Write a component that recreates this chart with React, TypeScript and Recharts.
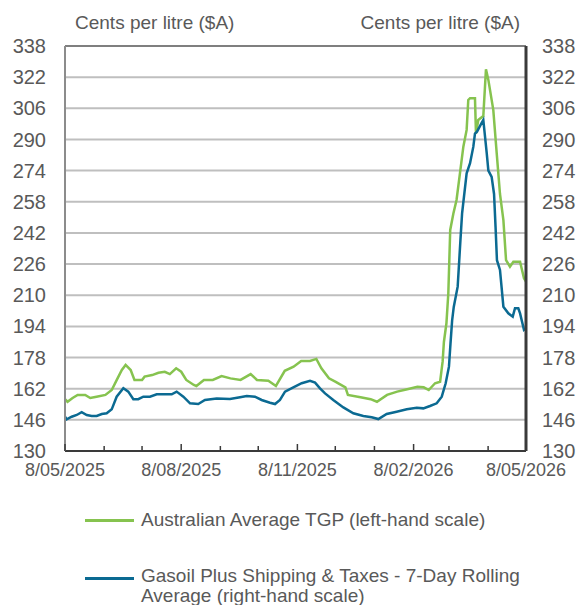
import { LineChart, Line, XAxis, YAxis, CartesianGrid, ReferenceLine } from 'recharts';

const START = Date.UTC(2025, 4, 8);
const DAY = 86400000;

// Australian Average TGP (left-hand scale), days after 8 May 2025
const tgpDays = [0, 2, 6, 10, 16, 20, 25, 32, 37, 41, 45, 48, 52, 55, 61, 63, 69, 74, 79, 83, 88, 92, 96, 102, 104, 110, 117, 124, 131, 139, 147, 152, 161, 167, 174, 181, 187, 194, 199, 203, 209, 214, 222, 224, 234, 242, 247, 255, 263, 271, 279, 284, 288, 293, 297, 299, 300, 302, 303.5, 305, 307.5, 310, 312.7, 315.4, 318, 319.3, 320.7, 324.6, 325.4, 327.2, 331.2, 333.3, 335.2, 339.1, 341.8, 344.4, 347.1, 349.2, 352.3, 355, 360.3, 363.4, 365];
const tgpCents = [156.6, 155.3, 157.2, 158.8, 158.8, 157.2, 157.9, 158.8, 161.3, 166.5, 171.6, 174.2, 171.6, 166.5, 166.5, 168.2, 169, 170.2, 170.7, 169.5, 172.5, 170.7, 166.5, 163.9, 163.4, 166.5, 166.5, 168.5, 167.3, 166.5, 169.5, 166.5, 166.1, 163.4, 171.2, 173.3, 176.2, 176.2, 177.3, 172.5, 167.3, 165.6, 162.7, 158.8, 157.6, 156.6, 155.3, 158.8, 160.5, 161.7, 163, 162.7, 161.3, 164.8, 165.6, 176, 186, 195.6, 211, 243.5, 252, 258.9, 272.6, 286.3, 294.9, 310.3, 311.2, 311.2, 293, 300, 302, 326, 320.6, 305.2, 283, 262, 248.6, 228, 224.7, 227.2, 227.2, 218.7, 217];

// Gasoil plus shipping & taxes, 7-day rolling average (right-hand scale)
const gasDays = [0, 1.3, 5.3, 9.3, 13.2, 17.2, 21.1, 25.1, 29.1, 33, 37, 40.9, 46.2, 50.1, 54.1, 58, 62, 67.3, 72.6, 80.5, 84.5, 88.4, 93.7, 99, 105.5, 110.8, 120.1, 130.6, 138.6, 143.9, 150.4, 155.7, 162.3, 166.3, 170.2, 174.2, 180.8, 187.4, 194, 198, 201.9, 205.9, 212.4, 220.4, 228.3, 236.2, 242.8, 248.1, 254.7, 262.6, 270.6, 278.5, 283.7, 289, 294.3, 298.3, 301.4, 304, 305.2, 306.5, 307.8, 310.9, 313.1, 314.4, 318, 320.7, 323.3, 324.6, 326.2, 329.9, 331.2, 333.9, 335.2, 337.8, 339.7, 340.9, 342, 344.4, 347.1, 351, 354.5, 356.3, 358.9, 360.3, 363.4, 365];
const gasCents = [147.6, 146.3, 147.6, 148.5, 149.9, 148.5, 148, 148, 149, 149.4, 151.4, 157.9, 162.2, 160.5, 156.6, 156.6, 157.9, 157.9, 159.1, 159.1, 159.1, 160.5, 157.9, 154.5, 154.1, 156.2, 157, 156.7, 157.6, 158.2, 157.9, 156.2, 154.8, 154.1, 156.2, 160.5, 162.7, 164.8, 166, 165.1, 162.2, 159.6, 156.2, 152.4, 149.4, 148, 147.3, 146.4, 149, 150.2, 151.4, 152.2, 151.9, 153.1, 154.5, 157.9, 164.8, 173.3, 185, 197, 204, 214.4, 238.4, 252, 272.6, 277.8, 286.3, 293, 294, 298.5, 300, 283, 274, 270.8, 262, 245, 228, 223, 204.1, 200.7, 199, 203.3, 203.3, 200.7, 192.2, 193];

const monthTicks = ['2025-05-08', '2025-06-08', '2025-07-08', '2025-08-08', '2025-09-08', '2025-10-08', '2025-11-08', '2025-12-08', '2026-01-08', '2026-02-08', '2026-03-08', '2026-04-08', '2026-05-08'];
const labelledTicks = ['8/05/2025', '8/08/2025', '8/11/2025', '8/02/2026', '8/05/2026'];
const yTicks = [130, 146, 162, 178, 194, 210, 226, 242, 258, 274, 290, 306, 322, 338];

const tgpData = tgpDays.map((d, i) => ({ day: d, tgp: tgpCents[i] }));
const gasData = gasDays.map((d, i) => ({ day: d, gas: gasCents[i] }));
const tickDays = monthTicks.map(s => (Date.parse(s) - START) / DAY);

const FONT = '"Liberation Sans", Arial, sans-serif';
const GREY = '#595959';
const GREEN = '#86C34F';
const BLUE = '#0B6A92';

function fmtDay(day: number) {
  const d = new Date(START + day * DAY);
  return `${d.getUTCDate()}/${String(d.getUTCMonth() + 1).padStart(2, '0')}/${d.getUTCFullYear()}`;
}

function MonthTick({ x, y, payload }: any) {
  const label = fmtDay(payload.value);
  const major = labelledTicks.includes(label);
  return (
    <g>
      <line x1={x} x2={x} y1={y} y2={y - (major ? 7 : 5)} stroke="#3a3a3a" strokeWidth={1.5} />
      {major && (
        <text x={x} y={y + 25} textAnchor="middle" fill={GREY} fontSize={18} fontFamily={FONT}>
          {label}
        </text>
      )}
    </g>
  );
}

export default function App() {
  const yTick = { fill: GREY, fontSize: 20, fontFamily: FONT };
  return (
    <div style={{ position: 'absolute', left: 0, top: 0, width: 579, height: 605, background: '#fff', fontFamily: FONT, color: GREY }}>
      <div style={{ position: 'absolute', left: 75, top: 12, fontSize: 19 }}>Cents per litre ($A)</div>
      <div style={{ position: 'absolute', right: 59, top: 12, fontSize: 19 }}>Cents per litre ($A)</div>

      <LineChart width={579} height={490} margin={{ top: 46, right: 0, left: 0, bottom: 0 }}>
        <CartesianGrid yAxisId="left" vertical={false} stroke="#BFBFBF" strokeWidth={2} />
        <XAxis
          dataKey="day"
          type="number"
          domain={[0, 365]}
          ticks={tickDays}
          allowDuplicatedCategory={false}
          height={39}
          tickSize={0}
          tickMargin={0}
          interval={0}
          tick={<MonthTick />}
          axisLine={{ stroke: '#3a3a3a', strokeWidth: 2 }}
          tickLine={false}
        />
        <YAxis
          yAxisId="left"
          domain={[130, 338]}
          ticks={yTicks}
          interval={0}
          width={65}
          tickSize={0}
          tickMargin={19}
          tickLine={false}
          axisLine={{ stroke: '#8c8c8c', strokeWidth: 2 }}
          tick={yTick}
        />
        <YAxis
          yAxisId="right"
          orientation="right"
          domain={[130, 338]}
          ticks={yTicks}
          interval={0}
          width={53}
          tickSize={0}
          tickMargin={16}
          tickLine={false}
          axisLine={{ stroke: '#3a3a3a', strokeWidth: 3 }}
          tick={yTick}
        />
        <ReferenceLine yAxisId="left" y={338} stroke="#7f7f7f" strokeWidth={2} />
        <Line
          yAxisId="left"
          data={tgpData}
          dataKey="tgp"
          type="linear"
          stroke={GREEN}
          strokeWidth={2.5}
          dot={false}
          isAnimationActive={false}
        />
        <Line
          yAxisId="right"
          data={gasData}
          dataKey="gas"
          type="linear"
          stroke={BLUE}
          strokeWidth={2.5}
          dot={false}
          isAnimationActive={false}
        />
      </LineChart>

      <div style={{ position: 'absolute', left: 85, top: 519, width: 49, height: 3, background: GREEN }} />
      <div style={{ position: 'absolute', left: 141, top: 509, fontSize: 19, lineHeight: '21px' }}>
        Australian Average TGP (left-hand scale)
      </div>
      <div style={{ position: 'absolute', left: 85, top: 577, width: 49, height: 3, background: BLUE }} />
      <div style={{ position: 'absolute', left: 141, top: 566, width: 390, fontSize: 19, lineHeight: '20px' }}>
        Gasoil Plus Shipping &amp; Taxes - 7-Day Rolling Average (right-hand scale)
      </div>
    </div>
  );
}
